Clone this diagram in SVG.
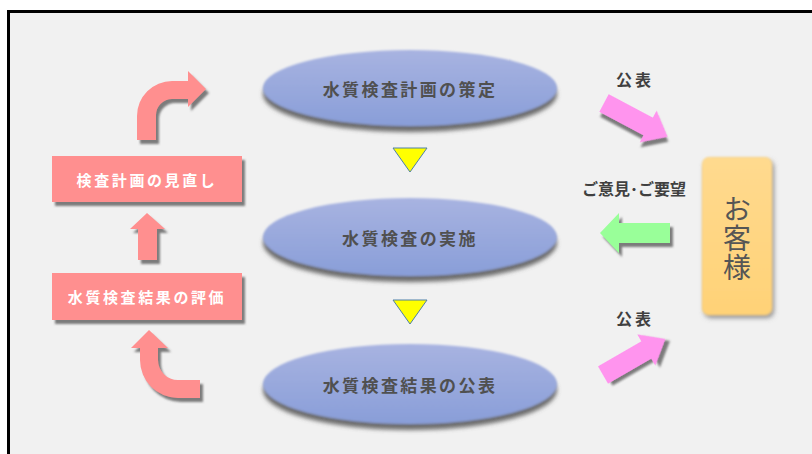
<svg xmlns="http://www.w3.org/2000/svg" width="812" height="454" viewBox="0 0 812 454">
<defs>
<style>
.jp{font-family:"Noto Sans CJK JP","Noto Sans CJK SC",sans-serif;font-weight:bold;}
.et{font-size:17px;fill:#505050;letter-spacing:2.4px;text-anchor:middle;dominant-baseline:central;}
.bt{font-size:15px;fill:#ffffff;letter-spacing:2.6px;text-anchor:middle;dominant-baseline:central;}
.lt{font-size:15px;fill:#404040;text-anchor:middle;dominant-baseline:central;}
.ell{fill:url(#eg);filter:url(#sh);}
.box{fill:#ff8f8f;filter:url(#sh2);}
.pink{fill:#ff94ee;filter:url(#sh2);}
.tri{fill:#ffff00;stroke:#4d7fa8;stroke-width:1;}
</style>
<linearGradient id="eg" x1="0" y1="0" x2="0" y2="1">
<stop offset="0" stop-color="#a8b3e1"/>
<stop offset="1" stop-color="#899ed8"/>
</linearGradient>
<linearGradient id="cg" x1="0" y1="0" x2="0" y2="1">
<stop offset="0" stop-color="#ffda8f"/>
<stop offset="1" stop-color="#ffd277"/>
</linearGradient>
<filter id="sh" x="-10%" y="-20%" width="125%" height="150%">
<feGaussianBlur in="SourceAlpha" stdDeviation="2" result="b"/>
<feOffset in="b" dx="0" dy="6" result="o"/>
<feFlood flood-color="#555" flood-opacity="0.85"/>
<feComposite in2="o" operator="in" result="s"/>
<feGaussianBlur in="SourceGraphic" stdDeviation="1.2" result="g"/>
<feMerge><feMergeNode in="s"/><feMergeNode in="g"/></feMerge>
</filter>
<filter id="sh2" x="-20%" y="-20%" width="150%" height="150%">
<feGaussianBlur in="SourceAlpha" stdDeviation="1.3" result="b"/>
<feOffset in="b" dx="3" dy="4" result="o"/>
<feFlood flood-color="#555" flood-opacity="0.75"/>
<feComposite in2="o" operator="in" result="s"/>
<feMerge><feMergeNode in="s"/><feMergeNode in="SourceGraphic"/></feMerge>
</filter>
<filter id="sh3" x="-30%" y="-20%" width="170%" height="140%">
<feGaussianBlur in="SourceAlpha" stdDeviation="2.5" result="b"/>
<feOffset in="b" dx="2" dy="3" result="o"/>
<feFlood flood-color="#666" flood-opacity="0.7"/>
<feComposite in2="o" operator="in" result="s"/>
<feGaussianBlur in="SourceGraphic" stdDeviation="0.8" result="g"/>
<feMerge><feMergeNode in="s"/><feMergeNode in="g"/></feMerge>
</filter>
</defs>
<rect x="0" y="0" width="812" height="454" fill="#ffffff"/>
<rect x="8.5" y="11.5" width="820" height="460" fill="#f1f1f1" stroke="#000" stroke-width="3"/>

<g id="connectors">
<path class="box" d="M137,140 L137,116 A35,35 0 0 1 172,81 L188,81 L188,71 L206,89 L188,107 L188,99 L172,99 A16,16 0 0 0 156,115 L156,140 Z"/>
<path class="box" d="M138,260 L138,229 L130,229 L147,213 L165,229 L157,229 L157,260 Z"/>
<path class="box" d="M200,380 L178,380 A20,20 0 0 1 158,360 L158,348 L168,348 L149,330 L131,348 L140,348 L140,360 A38,38 0 0 0 178,398 L200,398 Z"/>
<polygon class="tri" points="393,148 427,148 410,172"/>
<polygon class="tri" points="393,300 427,300 410,324"/>
<g transform="translate(604,103) rotate(28)"><polygon class="pink" points="0,-10 50,-10 50,-18 72,0 50,18 50,10 0,10"/></g>
<g transform="translate(603,375) rotate(-30)"><polygon class="pink" points="0,-10 50,-10 50,-18 72,0 50,18 50,10 0,10"/></g>
<polygon fill="#99ff99" filter="url(#sh2)" points="670,223 619,223 619,213 600,233 619,253 619,243 670,243"/>
<text class="jp lt" x="635" y="79" style="font-size:16px;letter-spacing:3px">公表</text>
<text class="jp lt" x="634" y="188" style="font-size:16px">ご意見･ご要望</text>
<text class="jp lt" x="635" y="318" style="font-size:16px;letter-spacing:3px">公表</text>
</g>

<g id="plan">
<ellipse class="ell" cx="410" cy="88" rx="147" ry="38"/>
<text class="jp et" x="410" y="88">水質検査計画の策定</text>
</g>
<g id="implement">
<ellipse class="ell" cx="410" cy="237" rx="147" ry="39"/>
<text class="jp et" x="410" y="237">水質検査の実施</text>
</g>
<g id="publish">
<ellipse class="ell" cx="410" cy="384" rx="147" ry="40"/>
<text class="jp et" x="410" y="384">水質検査結果の公表</text>
</g>
<g id="review">
<rect class="box" x="52" y="156" width="190" height="46"/>
<text class="jp bt" x="147" y="179">検査計画の見直し</text>
</g>
<g id="evaluate">
<rect class="box" x="52" y="273" width="190" height="47"/>
<text class="jp bt" x="147" y="296">水質検査結果の評価</text>
</g>
<g id="customer">
<rect x="702" y="157" width="70" height="158" rx="7" fill="url(#cg)" filter="url(#sh3)"/>
<text x="737" y="239" font-family="Noto Sans CJK JP, sans-serif" font-size="28" fill="#555" text-anchor="middle" writing-mode="vertical-rl" letter-spacing="1">お客様</text>
</g>
</svg>
